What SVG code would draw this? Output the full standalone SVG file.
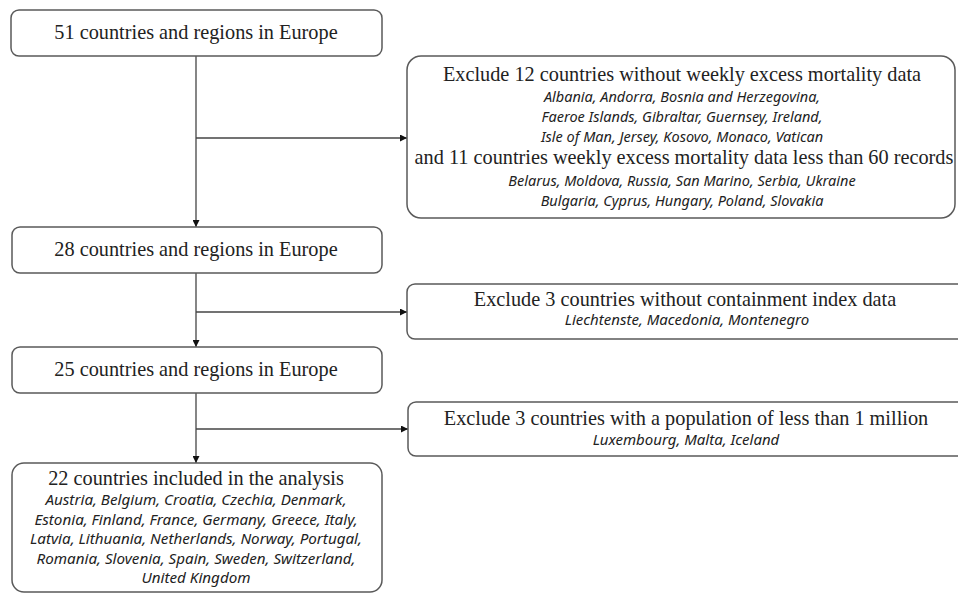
<svg xmlns="http://www.w3.org/2000/svg" width="958" height="593" viewBox="0 0 958 593">
<defs>
<style>
.box{fill:#fff;stroke:#5a5a5a;stroke-width:1.5}
.t{font-family:"Liberation Serif","Times New Roman",serif;font-size:20.3px;fill:#222;text-anchor:middle}
.i{font-family:"Noto Sans","Liberation Sans",sans-serif;font-style:italic;font-size:14.5px;fill:#222;text-anchor:middle}
.m{font-size:15px}
.l{font-size:15.2px}
.c{fill:none;stroke:#444;stroke-width:1.3}
</style>
<marker id="ah" viewBox="0 0 10 10" refX="10" refY="5" markerWidth="8" markerHeight="7" markerUnits="userSpaceOnUse" orient="auto">
<path d="M0,0 L10,5 L0,10 z" fill="#111"/>
</marker>
</defs>
<rect width="958" height="593" fill="#fff"/>
<g id="connectors">
<path class="c" d="M196,56 V227" marker-end="url(#ah)"/>
<path class="c" d="M196,138 H407" marker-end="url(#ah)"/>
<path class="c" d="M196,273 V347" marker-end="url(#ah)"/>
<path class="c" d="M196,312 H407" marker-end="url(#ah)"/>
<path class="c" d="M196,393 V463" marker-end="url(#ah)"/>
<path class="c" d="M196,429 H408" marker-end="url(#ah)"/>
</g>
<g id="n51">
<rect class="box" x="11" y="10" width="371" height="46" rx="8"/>
<text class="t" x="196" y="39">51 countries and regions in Europe</text>
</g>
<g id="ex12">
<rect class="box" x="407" y="56" width="548" height="162" rx="14"/>
<text class="t" x="682" y="81">Exclude 12 countries without weekly excess mortality data</text>
<text class="i" x="682" y="102">Albania, Andorra, Bosnia and Herzegovina,</text>
<text class="i" x="682" y="122">Faeroe Islands, Gibraltar, Guernsey, Ireland,</text>
<text class="i" x="682" y="142">Isle of Man, Jersey, Kosovo, Monaco, Vatican</text>
<text class="t" x="684" y="164">and 11 countries weekly excess mortality data less than 60 records</text>
<text class="i" x="682" y="186">Belarus, Moldova, Russia, San Marino, Serbia, Ukraine</text>
<text class="i" x="682" y="206">Bulgaria, Cyprus, Hungary, Poland, Slovakia</text>
</g>
<g id="n28">
<rect class="box" x="12" y="227" width="370" height="46" rx="8"/>
<text class="t" x="196" y="256">28 countries and regions in Europe</text>
</g>
<g id="ex3a">
<rect class="box" x="407" y="284" width="570" height="55" rx="8"/>
<text class="t" x="685" y="306">Exclude 3 countries without containment index data</text>
<text class="i m" x="687" y="325">Liechtenste, Macedonia, Montenegro</text>
</g>
<g id="n25">
<rect class="box" x="12" y="347" width="370" height="46" rx="8"/>
<text class="t" x="196" y="376">25 countries and regions in Europe</text>
</g>
<g id="ex3b">
<rect class="box" x="408" y="402" width="570" height="54" rx="8"/>
<text class="t" x="686" y="425">Exclude 3 countries with a population of less than 1 million</text>
<text class="i m" x="686" y="445">Luxembourg, Malta, Iceland</text>
</g>
<g id="n22">
<rect class="box" x="12" y="463" width="370" height="129" rx="12"/>
<text class="t" x="196" y="485">22 countries included in the analysis</text>
<text class="i l" x="196" y="505">Austria, Belgium, Croatia, Czechia, Denmark,</text>
<text class="i l" x="196" y="524.5">Estonia, Finland, France, Germany, Greece, Italy,</text>
<text class="i l" x="196" y="544">Latvia, Lithuania, Netherlands, Norway, Portugal,</text>
<text class="i l" x="196" y="563.5">Romania, Slovenia, Spain, Sweden, Switzerland,</text>
<text class="i l" x="196" y="583">United Kingdom</text>
</g>
</svg>
